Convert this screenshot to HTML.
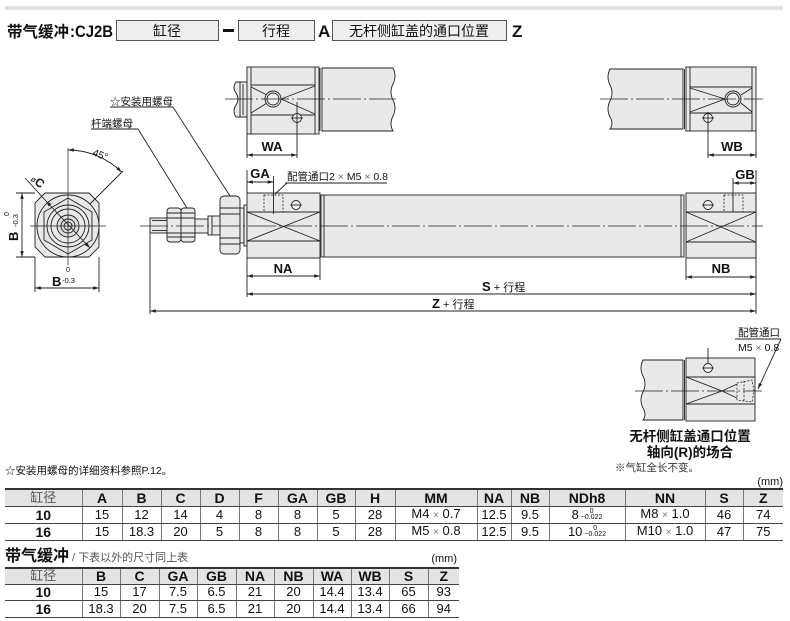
<!DOCTYPE html>
<html><head><meta charset="utf-8">
<style>
body{margin:0;background:#fff;width:790px;height:621px;overflow:hidden;position:relative;font-family:"Liberation Sans","Noto Sans CJK SC",sans-serif;}
svg{position:absolute;left:0;top:0}
table{position:absolute;border-collapse:collapse;table-layout:fixed;font-family:"Liberation Sans","Noto Sans CJK SC",sans-serif;}
td{padding:0;text-align:center;border-left:1px solid #777;border-bottom:1px solid #444;font-size:13px;color:#111;line-height:14px;white-space:nowrap;overflow:hidden}
tr.h td{background:#e3e3e3;font-weight:bold;font-size:14px;border-top:2px solid #333;}
td:first-child{border-left:none;}
tr.h td:first-child{font-weight:normal;color:#555;font-size:13px}
tr.d td:first-child{font-weight:bold;font-size:14px}
.x{color:#777;font-size:10px}
.tol{display:inline-block;vertical-align:middle;font-size:7px;line-height:6px;text-align:center;margin-left:2px}
.tol span{display:block}
</style></head><body>
<svg width="790" height="621" viewBox="0 0 790 621" font-family="Liberation Sans, Noto Sans CJK SC, sans-serif">
<defs>
<marker id="ar" viewBox="0 0 10 6" refX="10" refY="3" markerWidth="8" markerHeight="3.5" markerUnits="userSpaceOnUse" orient="auto-start-reverse"><path d="M0,0L10,3L0,6z" fill="#222"/></marker>
</defs>
<rect x="5" y="6" width="778" height="4" fill="#e2e2e2"/>
<!-- title -->
<text x="7" y="37" font-size="15.5" font-weight="bold" fill="#111" textLength="62" lengthAdjust="spacingAndGlyphs">带气缓冲</text>
<text x="70" y="37" font-size="16.5" font-weight="bold" fill="#111" textLength="43" lengthAdjust="spacingAndGlyphs">:CJ2B</text>
<rect x="116.5" y="20.5" width="102" height="20" fill="#efefef" stroke="#555"/>
<text x="167" y="36" font-size="14" text-anchor="middle" fill="#111">缸径</text>
<rect x="223" y="29" width="11" height="3" fill="#111"/>
<rect x="238.5" y="20.5" width="76" height="20" fill="#efefef" stroke="#555"/>
<text x="276" y="36" font-size="14" text-anchor="middle" fill="#111">行程</text>
<text x="318" y="37" font-size="17" font-weight="bold" fill="#111">A</text>
<rect x="332.5" y="20.5" width="174" height="20" fill="#efefef" stroke="#555"/>
<text x="419" y="36" font-size="14" text-anchor="middle" fill="#111">无杆侧缸盖的通口位置</text>
<text x="512" y="37" font-size="17" font-weight="bold" fill="#111">Z</text>

<g stroke="#222" stroke-width="0.9" fill="none">
<!-- ===== top-left view ===== -->
<path d="M247,82 L236,82 Q232,88 236,93 Q240,99 236,105 Q232,111 236,117 L247,117" fill="#e9e9e9"/>
<line x1="240" y1="82" x2="240" y2="117"/><line x1="243" y1="84" x2="243" y2="115"/>
<rect x="247" y="67" width="72" height="67" fill="#e9e9e9"/>
<line x1="251" y1="67" x2="251" y2="134"/><line x1="315" y1="67" x2="315" y2="134"/>
<line x1="251" y1="85" x2="315" y2="85"/><line x1="251" y1="115" x2="315" y2="115"/>
<path d="M251,87 L267,95 M251,113 L267,103 M281,99 L315,86 M281,99 L315,114"/>
<circle cx="273" cy="99" r="8" fill="#eee"/><circle cx="273" cy="99" r="6"/>
<path d="M322,68 L393,68 Q397,76 393,84 Q389,92 393,100 Q397,108 393,116 Q389,124 393,131 L322,131 Z" fill="#e9e9e9"/>
<line x1="320" y1="68" x2="320" y2="131"/>
<line x1="225" y1="99" x2="396" y2="99" stroke-dasharray="28 3 2 3" stroke-width="0.7"/>
<circle cx="297" cy="118" r="4.5" fill="#f4f4f4"/><line x1="291" y1="118" x2="303" y2="118"/>
<line x1="297" y1="102" x2="297" y2="158"/>
<line x1="247" y1="134" x2="247" y2="158"/>
<line x1="247" y1="155" x2="297" y2="155" marker-start="url(#ar)" marker-end="url(#ar)"/>

<!-- ===== top-right view ===== -->
<path d="M683,69 L610,69 Q606,77 610,85 Q614,93 610,101 Q606,109 610,117 Q614,124 610,129 L683,129 Z" fill="#e9e9e9"/>
<rect x="686" y="67" width="70" height="64" fill="#e9e9e9"/>
<line x1="684.5" y1="69" x2="684.5" y2="129"/>
<line x1="690" y1="67" x2="690" y2="131"/><line x1="752" y1="67" x2="752" y2="131"/>
<line x1="690" y1="87" x2="752" y2="87"/><line x1="690" y1="113" x2="752" y2="113"/>
<path d="M690,88 L725,99 L690,112 M741,95 L752,88 M741,103 L752,112"/>
<circle cx="733" cy="99" r="8" fill="#eee"/><circle cx="733" cy="99" r="6"/>
<line x1="600" y1="99" x2="763" y2="99" stroke-dasharray="28 3 2 3" stroke-width="0.7"/>
<circle cx="708" cy="118" r="4.5" fill="#f4f4f4"/><line x1="702" y1="118" x2="714" y2="118"/>
<line x1="708" y1="112" x2="708" y2="158"/>
<line x1="756" y1="131" x2="756" y2="158"/>
<line x1="708" y1="155" x2="756" y2="155" marker-start="url(#ar)" marker-end="url(#ar)"/>

<!-- ===== left end view ===== -->
<path d="M45,193 L89,193 L99,203 L99,247 L89,257 L45,257 L35,247 L35,203 Z" fill="#e9e9e9"/>
<circle cx="68" cy="226" r="31" fill="#e9e9e9"/>
<path d="M68,198 L92,212 L92,240 L68,254 L44,240 L44,212 Z" fill="#e6e6e6"/>
<circle cx="68" cy="226" r="21" fill="#e9e9e9"/>
<circle cx="68" cy="226" r="17"/>
<circle cx="68" cy="226" r="11" fill="#ddd"/>
<circle cx="68" cy="226" r="7"/>
<circle cx="68" cy="226" r="4"/>
<line x1="30" y1="226" x2="106" y2="226" stroke-width="0.7"/>
<line x1="68" y1="148" x2="68" y2="265" stroke-width="0.7"/>
<line x1="25" y1="178" x2="46" y2="201"/>
<line x1="46" y1="201" x2="90" y2="248" marker-start="url(#ar)" marker-end="url(#ar)"/>
<path d="M68,150 A76,76 0 0 1 121.7,172.3" marker-start="url(#ar)" marker-end="url(#ar)"/>
<line x1="90" y1="204" x2="123" y2="171"/>
<line x1="35" y1="193" x2="16" y2="193"/><line x1="35" y1="257" x2="16" y2="257"/>
<line x1="22" y1="193" x2="22" y2="257" marker-start="url(#ar)" marker-end="url(#ar)"/>
<line x1="35" y1="257" x2="35" y2="292"/><line x1="99" y1="257" x2="99" y2="292"/>
<line x1="35" y1="288" x2="99" y2="288" marker-start="url(#ar)" marker-end="url(#ar)"/>

<!-- ===== main side view ===== -->
<rect x="150" y="218" width="18" height="15" fill="#e9e9e9"/>
<line x1="152" y1="220.5" x2="168" y2="220.5"/><line x1="152" y1="230.5" x2="168" y2="230.5"/>
<rect x="167" y="208" width="14" height="34" rx="3" fill="#e9e9e9"/>
<rect x="181" y="208" width="14" height="34" rx="3" fill="#e9e9e9"/>
<path d="M167,213 H195 M167,218 H195 M167,233 H195 M167,237 H195"/>
<rect x="195" y="219" width="13" height="14" fill="#e9e9e9"/>
<rect x="208" y="216" width="12" height="19" fill="#e9e9e9"/>
<line x1="212" y1="216" x2="212" y2="235"/>
<rect x="220" y="196" width="20" height="58" rx="4" fill="#e9e9e9"/>
<path d="M220,208 H240 M220,214 H240 M220,238 H240 M220,244 H240"/>
<rect x="240" y="208" width="4" height="35" fill="#e9e9e9"/>
<rect x="244" y="205" width="3" height="41" fill="#e9e9e9"/>
<!-- left cover -->
<rect x="247" y="193" width="73" height="65" fill="#e9e9e9"/>
<line x1="247" y1="212" x2="320" y2="212"/><line x1="247" y1="241" x2="320" y2="241"/>
<path d="M247,212 L320,241 M247,241 L320,212"/>
<rect x="264" y="195" width="19" height="17" stroke-dasharray="2 1.5" stroke-width="0.8"/>
<line x1="273.5" y1="176" x2="273.5" y2="214"/>
<circle cx="296" cy="205" r="4.5" fill="#f4f4f4"/><line x1="290" y1="205" x2="302" y2="205"/>
<!-- tube -->
<rect x="321" y="195" width="363" height="62" fill="#e9e9e9"/>
<line x1="324" y1="195" x2="324" y2="257"/>
<line x1="681" y1="195" x2="681" y2="257"/>
<!-- right cover -->
<rect x="686" y="193" width="70" height="65" fill="#e9e9e9"/>
<line x1="686" y1="212" x2="756" y2="212"/><line x1="686" y1="242" x2="756" y2="242"/>
<path d="M686,212 L756,242 M686,242 L756,212"/>
<rect x="724" y="195" width="19" height="17" stroke-dasharray="2 1.5" stroke-width="0.8"/>
<line x1="733" y1="178" x2="733" y2="212"/>
<circle cx="708" cy="205" r="4.5" fill="#f4f4f4"/><line x1="702" y1="205" x2="714" y2="205"/>
<line x1="140" y1="226" x2="763" y2="226" stroke-dasharray="28 3 2 3" stroke-width="0.7"/>
<!-- dimensions -->
<line x1="247" y1="170" x2="247" y2="193"/>
<line x1="247" y1="182" x2="273.5" y2="182" marker-start="url(#ar)" marker-end="url(#ar)"/>
<line x1="287" y1="183" x2="275" y2="194"/>
<line x1="285" y1="183" x2="387" y2="183"/>
<line x1="756" y1="170" x2="756" y2="314"/>
<line x1="733" y1="183" x2="756" y2="183" marker-start="url(#ar)" marker-end="url(#ar)"/>
<line x1="247" y1="258" x2="247" y2="297"/>
<line x1="320" y1="258" x2="320" y2="280"/>
<line x1="247" y1="276" x2="320" y2="276" marker-start="url(#ar)" marker-end="url(#ar)"/>
<line x1="686" y1="258" x2="686" y2="280"/>
<line x1="686" y1="277" x2="756" y2="277" marker-start="url(#ar)" marker-end="url(#ar)"/>
<line x1="247" y1="294" x2="756" y2="294" marker-start="url(#ar)" marker-end="url(#ar)"/>
<line x1="150" y1="233" x2="150" y2="314"/>
<line x1="150" y1="311" x2="756" y2="311" marker-start="url(#ar)" marker-end="url(#ar)"/>
<!-- leaders -->
<line x1="110" y1="107" x2="173" y2="107"/>
<line x1="173" y1="107" x2="230" y2="196"/>
<line x1="91" y1="129" x2="138" y2="129"/>
<line x1="138" y1="129" x2="187" y2="208"/>

<!-- ===== bottom-right detail ===== -->
<path d="M683,360 L643,360 Q639,368 643,376 Q647,384 643,392 Q639,400 643,408 Q647,415 643,420 L683,420 Z" fill="#e9e9e9"/>
<line x1="684.5" y1="360" x2="684.5" y2="420"/>
<rect x="686" y="358" width="69" height="63" fill="#e9e9e9"/>
<line x1="686" y1="377" x2="755" y2="377"/><line x1="686" y1="404" x2="755" y2="404"/>
<path d="M686,377 L722,391 L686,404 M722,391 L737,384 M722,391 L737,398"/>
<path d="M737,383 L752,380 L754,391 L752,402 L737,400 Z M744,381 V401" stroke-dasharray="2 1.5" stroke-width="0.8"/>
<line x1="635" y1="391" x2="762" y2="391" stroke-dasharray="28 3 2 3" stroke-width="0.7"/>
<circle cx="708" cy="368" r="4.5" fill="#f4f4f4"/><line x1="702" y1="368" x2="714" y2="368"/>
<line x1="708" y1="348" x2="708" y2="364"/>
<line x1="735" y1="339" x2="781" y2="339"/>
<line x1="781" y1="339" x2="758" y2="389" marker-end="url(#ar)"/>
</g>

<!-- texts -->
<g fill="#111">
<text x="272" y="151" font-size="13" font-weight="bold" text-anchor="middle">WA</text>
<text x="732" y="151" font-size="13" font-weight="bold" text-anchor="middle">WB</text>
<text x="260" y="178" font-size="13" font-weight="bold" text-anchor="middle">GA</text>
<text x="745" y="179" font-size="13" font-weight="bold" text-anchor="middle">GB</text>
<text x="287" y="180" font-size="10.5">配管通口2 <tspan fill="#666">×</tspan> M5 <tspan fill="#666">×</tspan> 0.8</text>
<text x="283" y="273" font-size="13" font-weight="bold" text-anchor="middle">NA</text>
<text x="721" y="273" font-size="13" font-weight="bold" text-anchor="middle">NB</text>
<text x="482" y="291" font-size="13"><tspan font-weight="bold">S</tspan><tspan font-size="11"> + 行程</tspan></text>
<text x="432" y="308" font-size="13"><tspan font-weight="bold">Z</tspan><tspan font-size="11"> + 行程</tspan></text>
<text x="110" y="105" font-size="10.5">☆安装用螺母</text>
<text x="91" y="127" font-size="10.5">杆端螺母</text>
<text transform="translate(92,155) rotate(22)" font-size="10">45°</text>
<text transform="translate(30,180) rotate(40)" font-size="12" font-weight="bold"><tspan font-size="8" font-weight="normal">ø</tspan>C</text>
<g transform="translate(18,241) rotate(-90)">
<text x="0" y="0" font-size="13" font-weight="bold">B</text>
<text x="25" y="-9" font-size="7">0</text>
<text x="14" y="0" font-size="7.5">-0.3</text>
</g>
<text x="52" y="286" font-size="13" font-weight="bold">B</text>
<text x="66" y="272" font-size="7">0</text>
<text x="62" y="283" font-size="7.5">-0.3</text>
<text x="738" y="336" font-size="10.5">配管通口</text>
<text x="738" y="351" font-size="10.5">M5 <tspan fill="#666">×</tspan> 0.8</text>
<text x="690" y="441" font-size="13.5" font-weight="bold" text-anchor="middle">无杆侧缸盖通口位置</text>
<text x="690" y="457" font-size="13.5" font-weight="bold" text-anchor="middle">轴向(R)的场合</text>
<text x="615" y="471" font-size="10.5" fill="#333">※气缸全长不变。</text>
<text x="783" y="485" font-size="11" text-anchor="end">(mm)</text>
<text x="5" y="474" font-size="10.5">☆安装用螺母的详细资料参照P.12。</text>
<text x="5" y="561" font-size="16" font-weight="bold">带气缓冲</text>
<text x="72" y="561" font-size="11" fill="#555">/ 下表以外的尺寸同上表</text>
<text x="457" y="562" font-size="11" text-anchor="end">(mm)</text>
</g>
</svg>

<table style="left:5px;top:488px;width:778px">
<colgroup><col style="width:77px"><col style="width:40px"><col style="width:39px"><col style="width:39px"><col style="width:39px"><col style="width:39px"><col style="width:39px"><col style="width:38px"><col style="width:40px"><col style="width:82px"><col style="width:34px"><col style="width:38px"><col style="width:76px"><col style="width:80px"><col style="width:38px"><col style="width:40px"></colgroup>
<tr class="h" style="height:17px"><td>缸径</td><td>A</td><td>B</td><td>C</td><td>D</td><td>F</td><td>GA</td><td>GB</td><td>H</td><td>MM</td><td>NA</td><td>NB</td><td>NDh8</td><td>NN</td><td>S</td><td>Z</td></tr>
<tr class="d" style="height:16px"><td>10</td><td>15</td><td>12</td><td>14</td><td>4</td><td>8</td><td>8</td><td>5</td><td>28</td><td>M4 <span class="x">×</span> 0.7</td><td>12.5</td><td>9.5</td><td>8<span class="tol"><span>0</span><span>−0.022</span></span></td><td>M8 <span class="x">×</span> 1.0</td><td>46</td><td>74</td></tr>
<tr class="d" style="height:17px"><td>16</td><td>15</td><td>18.3</td><td>20</td><td>5</td><td>8</td><td>8</td><td>5</td><td>28</td><td>M5 <span class="x">×</span> 0.8</td><td>12.5</td><td>9.5</td><td>10<span class="tol"><span>0</span><span>−0.022</span></span></td><td>M10 <span class="x">×</span> 1.0</td><td>47</td><td>75</td></tr>
</table>

<table style="left:5px;top:567px;width:454px">
<colgroup><col style="width:77px"><col style="width:38px"><col style="width:39px"><col style="width:38px"><col style="width:39px"><col style="width:38px"><col style="width:39px"><col style="width:38px"><col style="width:38px"><col style="width:39px"><col style="width:31px"></colgroup>
<tr class="h" style="height:16px"><td>缸径</td><td>B</td><td>C</td><td>GA</td><td>GB</td><td>NA</td><td>NB</td><td>WA</td><td>WB</td><td>S</td><td>Z</td></tr>
<tr class="d" style="height:16px"><td>10</td><td>15</td><td>17</td><td>7.5</td><td>6.5</td><td>21</td><td>20</td><td>14.4</td><td>13.4</td><td>65</td><td>93</td></tr>
<tr class="d" style="height:17px"><td>16</td><td>18.3</td><td>20</td><td>7.5</td><td>6.5</td><td>21</td><td>20</td><td>14.4</td><td>13.4</td><td>66</td><td>94</td></tr>
</table>
</body></html>
